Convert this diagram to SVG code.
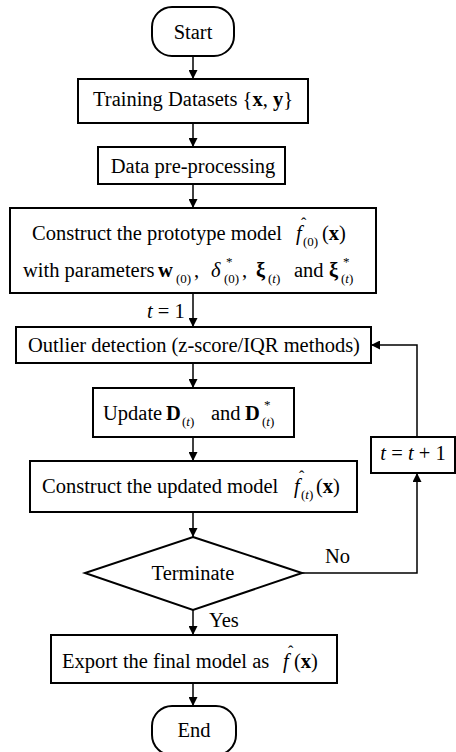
<svg xmlns="http://www.w3.org/2000/svg" width="456" height="752" viewBox="0 0 456 752">
<defs>
<marker id="ah" viewBox="0 0 10 10" refX="10" refY="5" markerWidth="9" markerHeight="9" markerUnits="userSpaceOnUse" orient="auto">
<path d="M0,0 L10,5 L0,10 Z" fill="#000"/>
</marker>
<style>
.box{fill:#fff;stroke:#000;stroke-width:2}
.con{fill:none;stroke:#000;stroke-width:1.5;marker-end:url(#ah)}
text{font-family:"Liberation Serif","Times New Roman",serif;font-size:20.5px;fill:#000}
.it{font-style:italic}
.b{font-weight:bold}
.sub{font-size:13px}
.hat{font-size:16px}
</style>
</defs>
<rect width="456" height="752" fill="#fff"/>
<g id="connectors">
<line class="con" x1="193" y1="56" x2="193" y2="79"/>
<line class="con" x1="193" y1="123" x2="193" y2="147"/>
<line class="con" x1="193" y1="184" x2="193" y2="208"/>
<line class="con" x1="193" y1="293" x2="193" y2="327"/>
<line class="con" x1="193" y1="363" x2="193" y2="388"/>
<line class="con" x1="193" y1="437" x2="193" y2="461"/>
<line class="con" x1="193" y1="512" x2="193" y2="537"/>
<line class="con" x1="193" y1="610" x2="193" y2="635"/>
<line class="con" x1="193" y1="683" x2="193" y2="706"/>
<polyline class="con" points="302,573 417,573 417,473"/>
<polyline class="con" points="417,437 417,345 371,345"/>
<text x="147" y="318"><tspan class="it">t</tspan> = 1</text>
<text x="325" y="563">No</text>
<text x="209" y="627">Yes</text>
</g>
<g id="start">
<rect class="box" x="152" y="7" width="82" height="49" rx="20"/>
<text x="193" y="39" text-anchor="middle">Start</text>
</g>
<g id="training">
<rect class="box" x="78" y="79" width="230" height="44"/>
<text x="193" y="106" text-anchor="middle">Training Datasets {<tspan class="b">x</tspan>, <tspan class="b">y</tspan>}</text>
</g>
<g id="preprocess">
<rect class="box" x="98" y="147" width="187" height="37"/>
<text x="193" y="173" text-anchor="middle">Data pre-processing</text>
</g>
<g id="prototype">
<rect class="box" x="10" y="208" width="366" height="85"/>
<text x="32" y="240">Construct the prototype model</text>
<text class="it" x="296" y="240">f</text>
<text class="hat" x="301" y="229">ˆ</text>
<text class="sub" x="303" y="246">(0)</text>
<text x="322" y="240">(<tspan class="b">x</tspan>)</text>
<text x="23" y="277">with parameters</text>
<text class="b" x="158" y="277">w</text>
<text class="sub" x="176" y="283">(0)</text>
<text x="194" y="277">,</text>
<text class="it" x="211" y="277">δ</text>
<text class="sub" x="226" y="266">*</text>
<text class="sub" x="224" y="283">(0)</text>
<text x="242" y="277">,</text>
<text class="b" x="256" y="277">ξ</text>
<text class="sub" x="268" y="283">(<tspan class="it">t</tspan>)</text>
<text x="294" y="277">and</text>
<text class="b" x="329" y="277">ξ</text>
<text class="sub" x="343" y="266">*</text>
<text class="sub" x="341" y="283">(<tspan class="it">t</tspan>)</text>
</g>
<g id="outlier">
<rect class="box" x="16" y="327" width="355" height="36"/>
<text x="194" y="352" text-anchor="middle">Outlier detection (z-score/IQR methods)</text>
</g>
<g id="update">
<rect class="box" x="93" y="388" width="201" height="49"/>
<text x="103" y="420">Update</text>
<text class="b" x="166" y="420">D</text>
<text class="sub" x="182" y="426">(<tspan class="it">t</tspan>)</text>
<text x="211" y="420">and</text>
<text class="b" x="245" y="420">D</text>
<text class="sub" x="264" y="409">*</text>
<text class="sub" x="262" y="426">(<tspan class="it">t</tspan>)</text>
</g>
<g id="tupdate">
<rect class="box" x="371" y="437" width="84" height="36"/>
<text x="413" y="460" text-anchor="middle"><tspan class="it">t</tspan> = <tspan class="it">t</tspan> + 1</text>
</g>
<g id="updated">
<rect class="box" x="30" y="461" width="327" height="51"/>
<text x="42" y="493">Construct the updated model</text>
<text class="it" x="294" y="493">f</text>
<text class="hat" x="299" y="482">ˆ</text>
<text class="sub" x="301" y="499">(<tspan class="it">t</tspan>)</text>
<text x="316" y="493">(<tspan class="b">x</tspan>)</text>
</g>
<g id="terminate">
<polygon class="box" points="193,537 302,573 193,610 85,573"/>
<text x="193" y="580" text-anchor="middle">Terminate</text>
</g>
<g id="export">
<rect class="box" x="51" y="635" width="286" height="48"/>
<text x="62" y="668">Export the final model as</text>
<text class="it" x="283" y="668">f</text>
<text class="hat" x="288" y="657">ˆ</text>
<text x="294" y="668">(<tspan class="b">x</tspan>)</text>
</g>
<g id="end">
<rect class="box" x="152" y="706" width="84" height="49" rx="20"/>
<text x="194" y="737" text-anchor="middle">End</text>
</g>
</svg>
